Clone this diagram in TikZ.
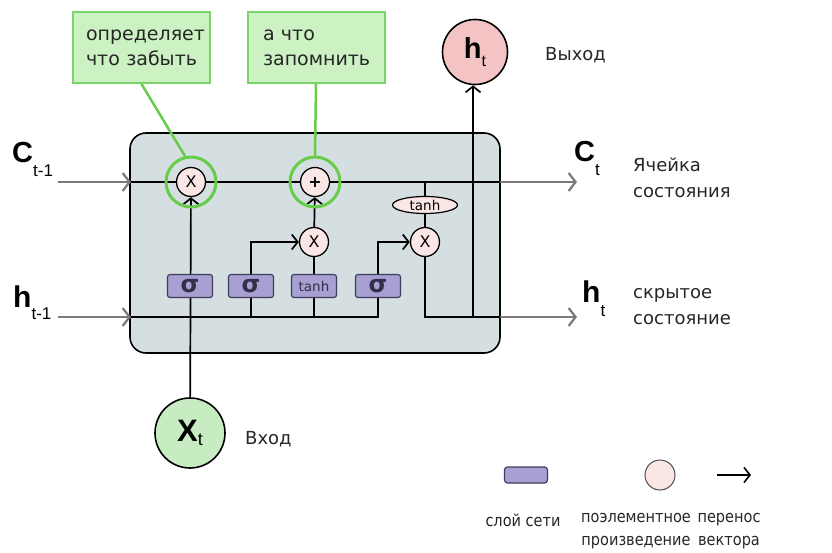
\documentclass[tikz,border=0pt]{standalone}
\usepackage{fontspec}
\setmainfont{DejaVu Sans}
\newfontfamily\labfont{Liberation Sans}
\newfontfamily\legfont{DejaVu Sans}[FakeStretch=0.88]
\usetikzlibrary{arrows.meta,shapes.geometric}
\definecolor{cellbg}{HTML}{D5DFE1}
\definecolor{gatefill}{HTML}{A8A0D2}
\definecolor{gatedraw}{HTML}{3E3C5A}
\definecolor{opfill}{HTML}{FBE6E6}
\definecolor{outfill}{HTML}{F4C4C4}
\definecolor{infill}{HTML}{C8ECC2}
\definecolor{ringgreen}{HTML}{66CC4A}
\definecolor{callfill}{HTML}{CCF2C4}
\definecolor{calldraw}{HTML}{7AD46A}
\definecolor{flowgray}{HTML}{7A7A7A}
\pgfdeclarelayer{bg}
\pgfdeclarelayer{wires}
\pgfsetlayers{bg,wires,main}
\tikzset{
  wire/.style={line width=1.7pt, black},
  warrow/.style={wire, -{Straight Barb[length=6pt,width=15pt,line width=1.7pt]}},
  grayarrow/.style={line width=2.4pt, flowgray, -{Straight Barb[length=7pt,width=18pt,line width=2.2pt]}},
  gatebox/.style={draw=gatedraw, fill=gatefill, line width=1.2pt, rounded corners=2.5pt,
    minimum width=45pt, minimum height=23pt, inner sep=0pt, font=\fontsize{24}{24}\selectfont\bfseries, text=gatedraw!80!black},
  opcirc/.style={circle, draw, fill=opfill, line width=1.3pt, minimum size=29pt, inner sep=0pt,
    font=\fontsize{16}{16}\selectfont},
  ring/.style={circle, draw=ringgreen, line width=3pt, minimum size=50pt, inner sep=0pt},
  callout/.style={draw=calldraw, fill=callfill, line width=2pt, minimum width=137pt, minimum height=71pt,
    inner sep=0pt, font=\fontsize{19}{25}\selectfont, text=black!85},
  pointer/.style={draw=ringgreen, line width=2.5pt},
  txt/.style={font=\fontsize{18}{26}\selectfont, text=black!85, inner sep=0pt, align=left},
  leg/.style={font=\legfont\fontsize{16.5}{23}\selectfont, text=black!85, inner sep=0pt, align=center}
}
\begin{document}
\begin{tikzpicture}[x=1pt,y=-1pt]
\useasboundingbox (0,0) rectangle (832,553);
\begin{pgfonlayer}{bg}
\node[draw, fill=cellbg, line width=1.6pt, rounded corners=16pt, minimum width=370pt, minimum height=220pt] (cell) at (315,243) {};
\end{pgfonlayer}

% coordinates
\coordinate (cin) at (58,182);
\coordinate (cL) at (131,182);
\coordinate (cR) at (500,182);
\coordinate (cout) at (577,182);
\coordinate (hin) at (58,317);
\coordinate (hL) at (131,317);
\coordinate (hR) at (500,317);
\coordinate (hout) at (577,317);
\coordinate (hj) at (473,317);
\coordinate (ctap) at (425,182);

% nodes
\node[ring] (ring1) at (191,182) {};
\node[ring] (ring2) at (315,182) {};
\node[opcirc] (fx) at (191,182) {X};
\node[opcirc] (plus) at (315,182) {\bfseries +};
\node[ellipse, draw, fill=opfill, line width=1.2pt, minimum width=65pt, minimum height=17pt, inner sep=0pt,
      font=\fontsize{13.5}{13.5}\selectfont] (tanhE) at (425,205) {tanh};
\node[opcirc] (mx1) at (314,242) {X};
\node[opcirc] (mx2) at (425,242) {X};
\node[gatebox] (s1) at (190,286) {σ};
\node[gatebox] (s2) at (251,286) {σ};
\node[gatebox, font=\fontsize{13.5}{13.5}\selectfont] (tb) at (314,286) {tanh};
\node[gatebox] (s4) at (378,286) {σ};
\node[circle, draw, fill=infill, line width=1.6pt, minimum size=70pt, inner sep=0pt] (xt) at (190,433)
  {\labfont\fontsize{31}{31}\selectfont\bfseries X\lower4pt\hbox{\mdseries\fontsize{18}{18}\selectfont t}};
\node[circle, draw, fill=outfill, line width=1.6pt, minimum size=65pt, inner sep=0pt] (ht) at (475,52)
  {\labfont\fontsize{29}{29}\selectfont\bfseries h\lower8pt\hbox{\mdseries\fontsize{16}{16}\selectfont t}};

% callouts
\node[callout, text width=111pt, align=left] (call1) at (141.5,47.5) {определяет\\что забыть};
\node[callout, text width=108pt, align=left] (call2) at (316,47.5) {\hspace*{1pt}а что\\\hspace*{1pt}запомнить};
\draw[pointer] (call1.south) -- (ring1.103);
\draw[pointer] (call2.south) -- (ring2.north);

% wires
\begin{pgfonlayer}{wires}
\draw[grayarrow] (cin) -- (cL);
\draw[grayarrow] (hin) -- (hL);
\draw[wire] (cL) -- (cR);
\draw[grayarrow] (cR) -- (cout);
\draw[wire] (hL) -| (s4.south);
\draw[wire] (s2.south) -- (s2.south |- hL);
\draw[wire] (tb.south) -- (tb.south |- hL);
\draw[warrow] (xt) -- (fx);
\draw[warrow] (s2.north) |- (mx1);
\draw[wire] (tb) -- (mx1);
\draw[warrow] (mx1) -- (plus);
\draw[warrow] (s4.north) |- (mx2);
\draw[wire] (ctap) -- (tanhE);
\draw[wire] (tanhE) -- (mx2);
\draw[wire] (mx2) |- (hR);
\draw[grayarrow] (hR) -- (hout);
\draw[warrow] (hj) -- (hj |- ht.south);
\end{pgfonlayer}

% big labels
\node[anchor=base west, inner sep=0pt] (lc1) at (12,163)
  {\labfont\fontsize{29}{29}\selectfont\bfseries C\lower14pt\hbox{\mdseries\fontsize{17}{17}\selectfont t-1}};
\node[anchor=base west, inner sep=0pt] (lh1) at (13,307)
  {\labfont\fontsize{30}{30}\selectfont\bfseries h\lower12pt\hbox{\mdseries\fontsize{17}{17}\selectfont t-1}};
\node[anchor=base west, inner sep=0pt] (lc2) at (574,162)
  {\labfont\fontsize{29}{29}\selectfont\bfseries C\lower14pt\hbox{\mdseries\fontsize{17}{17}\selectfont t}};
\node[anchor=base west, inner sep=0pt] (lh2) at (582,302)
  {\labfont\fontsize{30}{30}\selectfont\bfseries h\lower14pt\hbox{\mdseries\fontsize{17}{17}\selectfont t}};

% text labels
\node[txt, anchor=west] (lout) at (545,55) {Выход};
\node[txt, anchor=west] (lcell) at (633,178) {Ячейка\\состояния};
\node[txt, anchor=west] (lhid) at (633,307) {скрытое\\состояние};
\node[txt, anchor=west] (lin) at (245,439) {Вход};

% legend
\node[draw=gatedraw, fill=gatefill, line width=1.2pt, rounded corners=3pt, minimum width=43pt, minimum height=16pt, inner sep=0pt] (lgbox) at (526,475) {};
\node[circle, draw=black!70, fill=opfill, line width=1pt, minimum size=30pt, inner sep=0pt] (lgcirc) at (660,475) {};
\coordinate (lga) at (717,475);
\coordinate (lgb) at (751,475);
\draw[line width=1.6pt, -{Straight Barb[length=6pt,width=15pt,line width=1.6pt]}] (lga) -- (lgb);
\node[leg] (t1) at (523,520) {слой сети};
\node[leg] (t2) at (636,531) {поэлементное\\произведение};
\node[leg] (t3) at (729,531) {перенос\\вектора};
\end{tikzpicture}
\end{document}
